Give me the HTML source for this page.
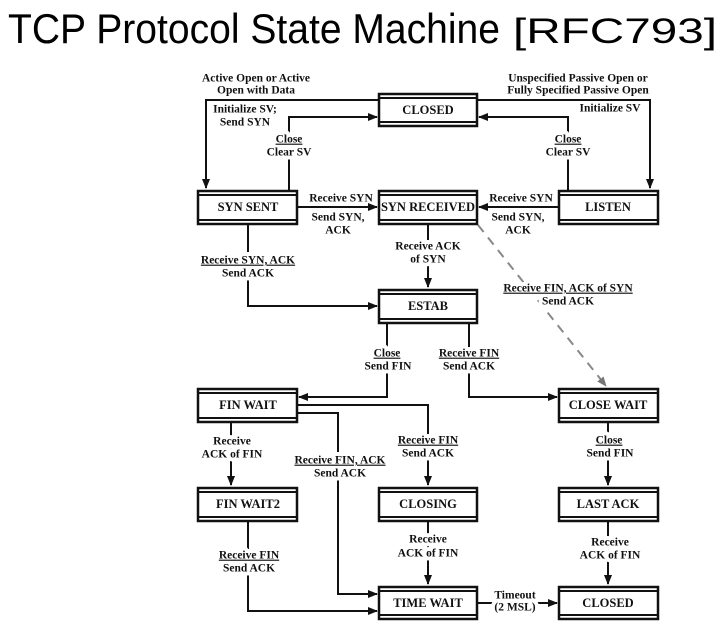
<!DOCTYPE html>
<html><head><meta charset="utf-8"><style>
body{margin:0;background:#fff;width:726px;height:633px;overflow:hidden}
svg{position:absolute;left:0;top:0}
.t{font-family:"Liberation Serif",serif;font-weight:bold;font-size:11.5px;fill:#111;text-anchor:middle;dominant-baseline:middle}
.b{font-family:"Liberation Serif",serif;font-weight:bold;font-size:12.5px;fill:#111;text-anchor:middle;dominant-baseline:middle}
.u{text-decoration:underline}
.m .t{fill:#fff;stroke:#fff;stroke-width:8;stroke-linejoin:round}
</style></head><body>
<svg width="726" height="633" viewBox="0 0 726 633">
<defs>
<marker id="a" markerWidth="10" markerHeight="10" refX="9" refY="5" orient="auto" markerUnits="userSpaceOnUse"><path d="M0,1 L10,5 L0,9 z" fill="#111"/></marker>
<marker id="g" markerWidth="10" markerHeight="10" refX="9" refY="5" orient="auto" markerUnits="userSpaceOnUse"><path d="M0,1 L10,5 L0,9 z" fill="#777"/></marker>
</defs>
<text x="8" y="43" font-family="'Liberation Sans',sans-serif" font-size="42" fill="#000" textLength="492" lengthAdjust="spacingAndGlyphs">TCP Protocol State Machine</text>
<text x="513" y="43" font-family="'Liberation Sans',sans-serif" font-size="35" fill="#000" textLength="204" lengthAdjust="spacingAndGlyphs">[RFC793]</text>
<g fill="none" stroke="#111" stroke-width="2">
<path d="M379 100 H206 V188" marker-end="url(#a)"/>
<path d="M477 100 H650 V188" marker-end="url(#a)"/>
<path d="M289 190 V117 H377" marker-end="url(#a)"/>
<path d="M568 190 V117 H479" marker-end="url(#a)"/>
<path d="M298 207 H377" marker-end="url(#a)"/>
<path d="M559 207 H479" marker-end="url(#a)"/>
<path d="M248 225 V306 H377" marker-end="url(#a)"/>
<path d="M428 225 V287" marker-end="url(#a)"/>
<path d="M387 323 V397 H299" marker-end="url(#a)"/>
<path d="M469 323 V397 H557" marker-end="url(#a)"/>
<path d="M297 405 H428 V485" marker-end="url(#a)"/>
<path d="M297 413 H338 V594 H377" marker-end="url(#a)"/>
<path d="M231 422 V485" marker-end="url(#a)"/>
<path d="M248 521 V611 H377" marker-end="url(#a)"/>
<path d="M428 521 V584" marker-end="url(#a)"/>
<path d="M608 422 V485" marker-end="url(#a)"/>
<path d="M608 521 V584" marker-end="url(#a)"/>
<path d="M477 603 H557" marker-end="url(#a)"/>
</g>
<path d="M478 225 L606 386" stroke="#888" stroke-width="2" stroke-dasharray="9,7" fill="none" marker-end="url(#g)"/>
<g fill="#fff" stroke="#111" stroke-width="2.5">
<rect x="198" y="191" width="99" height="33"/><rect x="379" y="191" width="98" height="33"/><rect x="559" y="191" width="99" height="33"/>
<rect x="379" y="94" width="98" height="32"/><rect x="379" y="290" width="98" height="33"/>
<rect x="198" y="389" width="99" height="33"/><rect x="559" y="389" width="99" height="33"/>
<rect x="198" y="488" width="99" height="33"/><rect x="379" y="488" width="98" height="33"/><rect x="559" y="488" width="99" height="33"/>
<rect x="379" y="587" width="98" height="32"/><rect x="559" y="587" width="99" height="32"/>
</g>
<g stroke="#111" stroke-width="2">
<path d="M379 98H477M379 122H477M198 195H297M198 220H297M379 195H477M379 220H477M559 195H658M559 220H658M379 294H477M379 319H477M198 393H297M198 418H297M559 393H658M559 418H658M198 492H297M198 517H297M379 492H477M379 517H477M559 492H658M559 517H658M379 591H477M379 615H477M559 591H658M559 615H658"/>
</g>
<text class="b" x="428" y="111">CLOSED</text>
<text class="b" x="248" y="208">SYN SENT</text>
<text class="b" x="428" y="208">SYN RECEIVED</text>
<text class="b" x="608" y="208">LISTEN</text>
<text class="b" x="428" y="307">ESTAB</text>
<text class="b" x="248" y="406">FIN WAIT</text>
<text class="b" x="608" y="406">CLOSE WAIT</text>
<text class="b" x="248" y="505">FIN WAIT2</text>
<text class="b" x="428" y="505">CLOSING</text>
<text class="b" x="608" y="505">LAST ACK</text>
<text class="b" x="428" y="604">TIME WAIT</text>
<text class="b" x="608" y="604">CLOSED</text>
<g class="m">
<text class="t" x="289" y="140">Close</text><text class="t" x="289" y="153">Clear SV</text>
<text class="t" x="568" y="140">Close</text><text class="t" x="568" y="153">Clear SV</text>
<text class="t" x="248" y="261">Receive SYN, ACK</text><text class="t" x="248" y="274">Send ACK</text>
<text class="t" x="428" y="247">Receive ACK</text><text class="t" x="428" y="260">of SYN</text>
<text class="t" x="568" y="289">Receive FIN, ACK of SYN</text><text class="t" x="568" y="302">Send ACK</text>
<text class="t" x="387" y="354">Close</text><text class="t" x="388" y="367">Send FIN</text>
<text class="t" x="469" y="354">Receive FIN</text><text class="t" x="469" y="367">Send ACK</text>
<text class="t" x="232" y="442">Receive</text><text class="t" x="232" y="455">ACK of FIN</text>
<text class="t" x="340" y="461">Receive FIN, ACK</text><text class="t" x="340" y="474">Send ACK</text>
<text class="t" x="428" y="441">Receive FIN</text><text class="t" x="428" y="454">Send ACK</text>
<text class="t" x="609" y="441">Close</text><text class="t" x="610" y="454">Send FIN</text>
<text class="t" x="249" y="556">Receive FIN</text><text class="t" x="249" y="569">Send ACK</text>
<text class="t" x="428" y="540">Receive</text><text class="t" x="428" y="554">ACK of FIN</text>
<text class="t" x="610" y="543">Receive</text><text class="t" x="610" y="556">ACK of FIN</text>
<text class="t" x="515" y="596">Timeout</text><text class="t" x="515" y="608">(2 MSL)</text>
</g>
<g>
<text class="t" x="256" y="79">Active Open or Active</text>
<text class="t" x="256" y="91">Open with Data</text>
<text class="t" x="245" y="110">Initialize SV;</text>
<text class="t" x="245" y="123">Send SYN</text>
<text class="t" x="578" y="79">Unspecified Passive Open or</text>
<text class="t" x="578" y="91">Fully Specified Passive Open</text>
<text class="t" x="610" y="109">Initialize SV</text>
<text class="t u" x="289" y="140">Close</text><text class="t" x="289" y="153">Clear SV</text>
<text class="t u" x="568" y="140">Close</text><text class="t" x="568" y="153">Clear SV</text>
<text class="t" x="341" y="199">Receive SYN</text>
<text class="t" x="338" y="218">Send SYN,</text><text class="t" x="338" y="231">ACK</text>
<text class="t" x="521" y="199">Receive SYN</text>
<text class="t" x="518" y="218">Send SYN,</text><text class="t" x="518" y="231">ACK</text>
<text class="t u" x="248" y="261">Receive SYN, ACK</text><text class="t" x="248" y="274">Send ACK</text>
<text class="t" x="428" y="247">Receive ACK</text><text class="t" x="428" y="260">of SYN</text>
<text class="t u" x="568" y="289">Receive FIN, ACK of SYN</text><text class="t" x="568" y="302">Send ACK</text>
<text class="t u" x="387" y="354">Close</text><text class="t" x="388" y="367">Send FIN</text>
<text class="t u" x="469" y="354">Receive FIN</text><text class="t" x="469" y="367">Send ACK</text>
<text class="t" x="232" y="442">Receive</text><text class="t" x="232" y="455">ACK of FIN</text>
<text class="t u" x="340" y="461">Receive FIN, ACK</text><text class="t" x="340" y="474">Send ACK</text>
<text class="t u" x="428" y="441">Receive FIN</text><text class="t" x="428" y="454">Send ACK</text>
<text class="t u" x="609" y="441">Close</text><text class="t" x="610" y="454">Send FIN</text>
<text class="t u" x="249" y="556">Receive FIN</text><text class="t" x="249" y="569">Send ACK</text>
<text class="t" x="428" y="540">Receive</text><text class="t" x="428" y="554">ACK of FIN</text>
<text class="t" x="610" y="543">Receive</text><text class="t" x="610" y="556">ACK of FIN</text>
<text class="t" x="515" y="596">Timeout</text><text class="t" x="515" y="608">(2 MSL)</text>
</g>
</svg>
</body></html>
